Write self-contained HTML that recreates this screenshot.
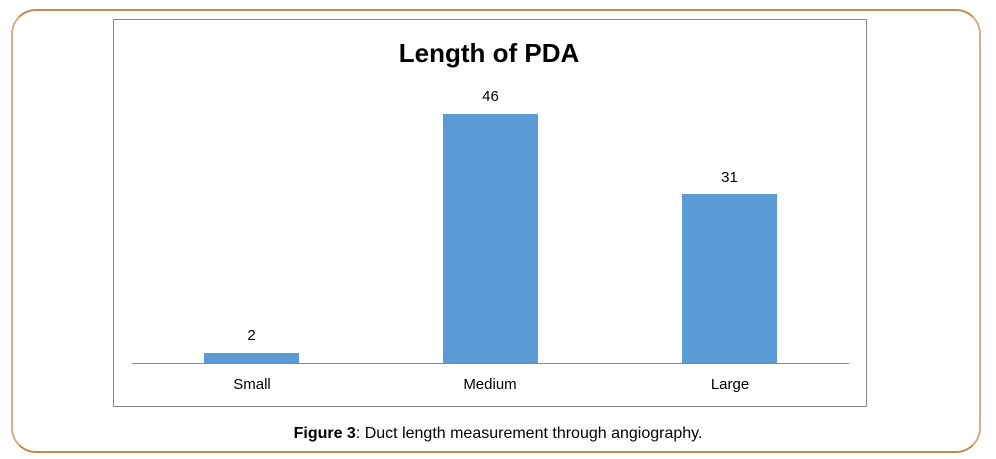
<!DOCTYPE html>
<html><head><style>
body{margin:0;width:996px;height:459px;background:#fff;position:relative;overflow:hidden;font-family:"Liberation Sans",sans-serif}
.o{position:absolute;left:11px;top:9px;width:966px;height:440px;border:2px solid #d4ae8a;border-top-color:#c88a4c;border-bottom-color:#c88a4c;border-radius:25px}
.i{position:absolute;left:113px;top:19px;width:752px;height:386px;border:1px solid #888}
.t{position:absolute;text-align:center;color:#000}
.b{position:absolute;background:#5b9bd5}
</style></head><body>
<div class="o"></div>
<div class="i"></div>
<div class="t" style="left:113px;width:752px;top:38px;font-size:26px;font-weight:bold">Length of PDA</div>
<div style="position:absolute;left:132px;top:363px;width:717px;height:1px;background:#888"></div>
<div class="b" style="left:204px;top:353px;width:95px;height:10px"></div>
<div class="b" style="left:443px;top:114px;width:95px;height:249px"></div>
<div class="b" style="left:682px;top:194px;width:95px;height:169px"></div>
<div class="t" style="left:204px;width:95px;top:327px;font-size:15px">2</div>
<div class="t" style="left:443px;width:95px;top:88px;font-size:15px">46</div>
<div class="t" style="left:682px;width:95px;top:169px;font-size:15px">31</div>
<div class="t" style="left:192px;width:120px;top:376px;font-size:15px">Small</div>
<div class="t" style="left:430px;width:120px;top:376px;font-size:15px">Medium</div>
<div class="t" style="left:670px;width:120px;top:376px;font-size:15px">Large</div>
<div class="t" style="left:0;width:996px;top:425px;font-size:16px"><b>Figure 3</b>: Duct length measurement through angiography.</div>
</body></html>
